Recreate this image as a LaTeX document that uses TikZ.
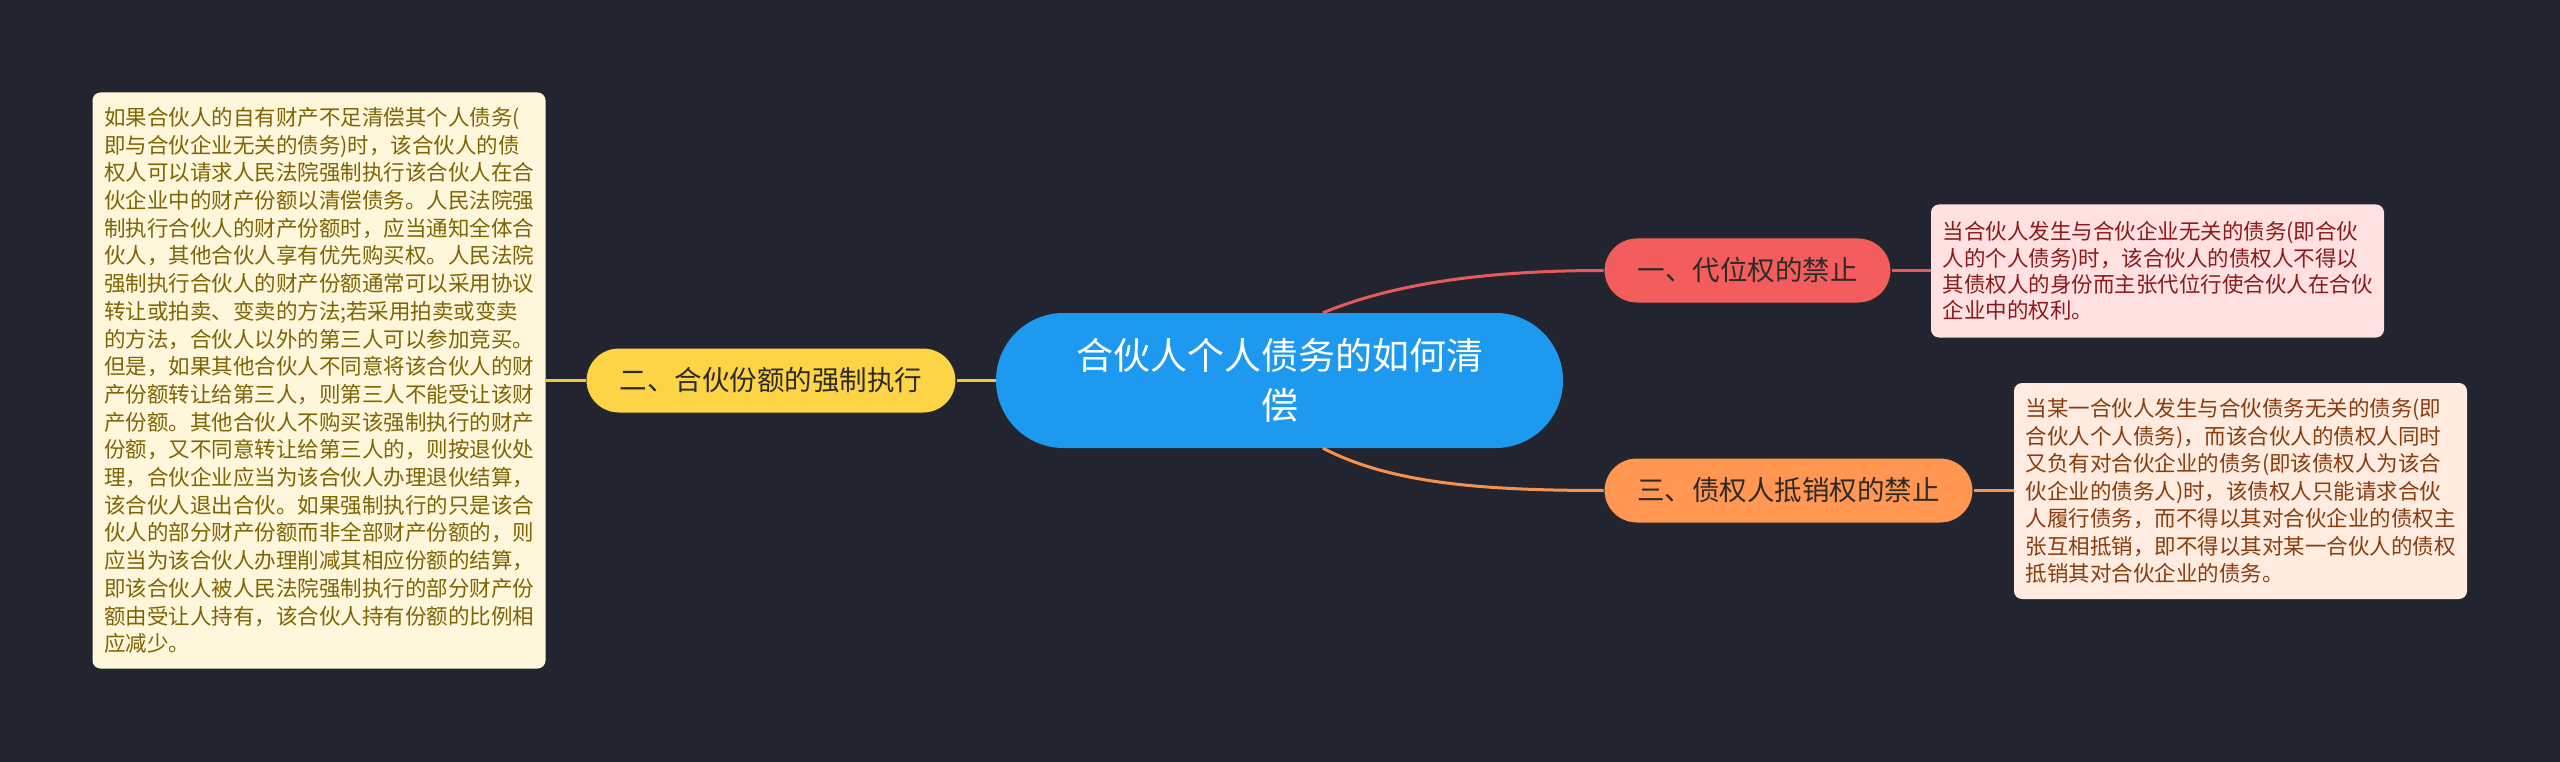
\documentclass[tikz,border=0pt]{standalone}
\usepackage{fontspec}
\setmainfont{Noto Sans CJK SC}
\usetikzlibrary{shapes.misc}
\definecolor{bg}{HTML}{22252F}
\definecolor{cblue}{HTML}{1D9AF0}
\definecolor{ylw}{HTML}{FDD445}
\definecolor{ylwline}{HTML}{F2C83C}
\definecolor{rednode}{HTML}{F45D5D}
\definecolor{redline}{HTML}{E65A5F}
\definecolor{orgnode}{HTML}{FF9752}
\definecolor{orgline}{HTML}{F5924F}
\definecolor{lboxfill}{HTML}{FEF7DC}
\definecolor{lboxtext}{HTML}{7F6404}
\definecolor{tboxfill}{HTML}{FFE1E1}
\definecolor{tboxtext}{HTML}{8C1A1A}
\definecolor{bboxfill}{HTML}{FFEBDF}
\definecolor{bboxtext}{HTML}{8A3C0E}
\definecolor{darktext}{HTML}{2E2A26}
\begin{document}
\begin{tikzpicture}[x=1pt,y=-1pt,
  rootnode/.style={rounded rectangle, fill=cblue, text=white, minimum width=567pt,
    minimum height=135pt, inner sep=0pt, align=center, font=\fontsize{37}{50}\selectfont},
  branchnode/.style={rounded rectangle, draw=black!85, line width=1pt, minimum height=65pt,
    inner sep=0pt, text=darktext, font=\fontsize{27.5}{33}\selectfont},
  leafbox/.style={rectangle, rounded corners=8pt, inner xsep=11.5pt, inner ysep=0pt,
    text width=430pt, align=left},
  conn/.style={line width=3pt}
]
\fill[bg] (0,0) rectangle (2560,762);
\useasboundingbox (0,0) rectangle (2560,762);

\node[rootnode] (c) at (1279.5,380.5) {合伙人个人债务的如何清\\偿};

\node[branchnode, fill=ylw, minimum width=370pt] (b2) at (771,380.5) {二、合伙份额的强制执行};
\node[branchnode, fill=rednode, minimum width=287pt] (b1) at (1747.5,270.5) {一、代位权的禁止};
\node[branchnode, fill=orgnode, minimum width=369pt] (b3) at (1788.5,490.5) {三、债权人抵销权的禁止};

\node[leafbox, fill=lboxfill, text=lboxtext, minimum height=576pt,
  font=\fontsize{21.5}{27.7}\selectfont] (l2) at (319,380.5) {如果合伙人的自有财产不足清偿其个人债务(\\即与合伙企业无关的债务)时，该合伙人的债\\权人可以请求人民法院强制执行该合伙人在合\\伙企业中的财产份额以清偿债务。人民法院强\\制执行合伙人的财产份额时，应当通知全体合\\伙人，其他合伙人享有优先购买权。人民法院\\强制执行合伙人的财产份额通常可以采用协议\\转让或拍卖、变卖的方法;若采用拍卖或变卖\\的方法，合伙人以外的第三人可以参加竞买。\\但是，如果其他合伙人不同意将该合伙人的财\\产份额转让给第三人，则第三人不能受让该财\\产份额。其他合伙人不购买该强制执行的财产\\份额，又不同意转让给第三人的，则按退伙处\\理，合伙企业应当为该合伙人办理退伙结算，\\该合伙人退出合伙。如果强制执行的只是该合\\伙人的部分财产份额而非全部财产份额的，则\\应当为该合伙人办理削减其相应份额的结算，\\即该合伙人被人民法院强制执行的部分财产份\\额由受让人持有，该合伙人持有份额的比例相\\应减少。};

\node[leafbox, fill=tboxfill, text=tboxtext, minimum height=133pt,
  font=\fontsize{21.5}{26.3}\selectfont] (l1) at (2157.5,271) {当合伙人发生与合伙企业无关的债务(即合伙\\人的个人债务)时，该合伙人的债权人不得以\\其债权人的身份而主张代位行使合伙人在合伙\\企业中的权利。};

\node[leafbox, fill=bboxfill, text=bboxtext, minimum height=216pt,
  font=\fontsize{21.5}{27.5}\selectfont] (l3) at (2240.5,491) {当某一合伙人发生与合伙债务无关的债务(即\\合伙人个人债务)，而该合伙人的债权人同时\\又负有对合伙企业的债务(即该债权人为该合\\伙企业的债务人)时，该债权人只能请求合伙\\人履行债务，而不得以其对合伙企业的债权主\\张互相抵销，即不得以其对某一合伙人的债权\\抵销其对合伙企业的债务。};

% connectors
\draw[conn, ylwline] (c.west) -- (b2.east);
\draw[conn, ylwline] (b2.west) -- (l2.east);
\draw[conn, redline] ([xshift=43.5pt]c.north) .. controls (1390,285) and (1480,270.5) .. (b1.west);
\draw[conn, redline] (b1.east) -- (l1.west |- b1.east);
\draw[conn, orgline] ([xshift=43.5pt]c.south) .. controls (1390,483) and (1480,490.5) .. (b3.west);
\draw[conn, orgline] (b3.east) -- (l3.west |- b3.east);
\end{tikzpicture}
\end{document}
